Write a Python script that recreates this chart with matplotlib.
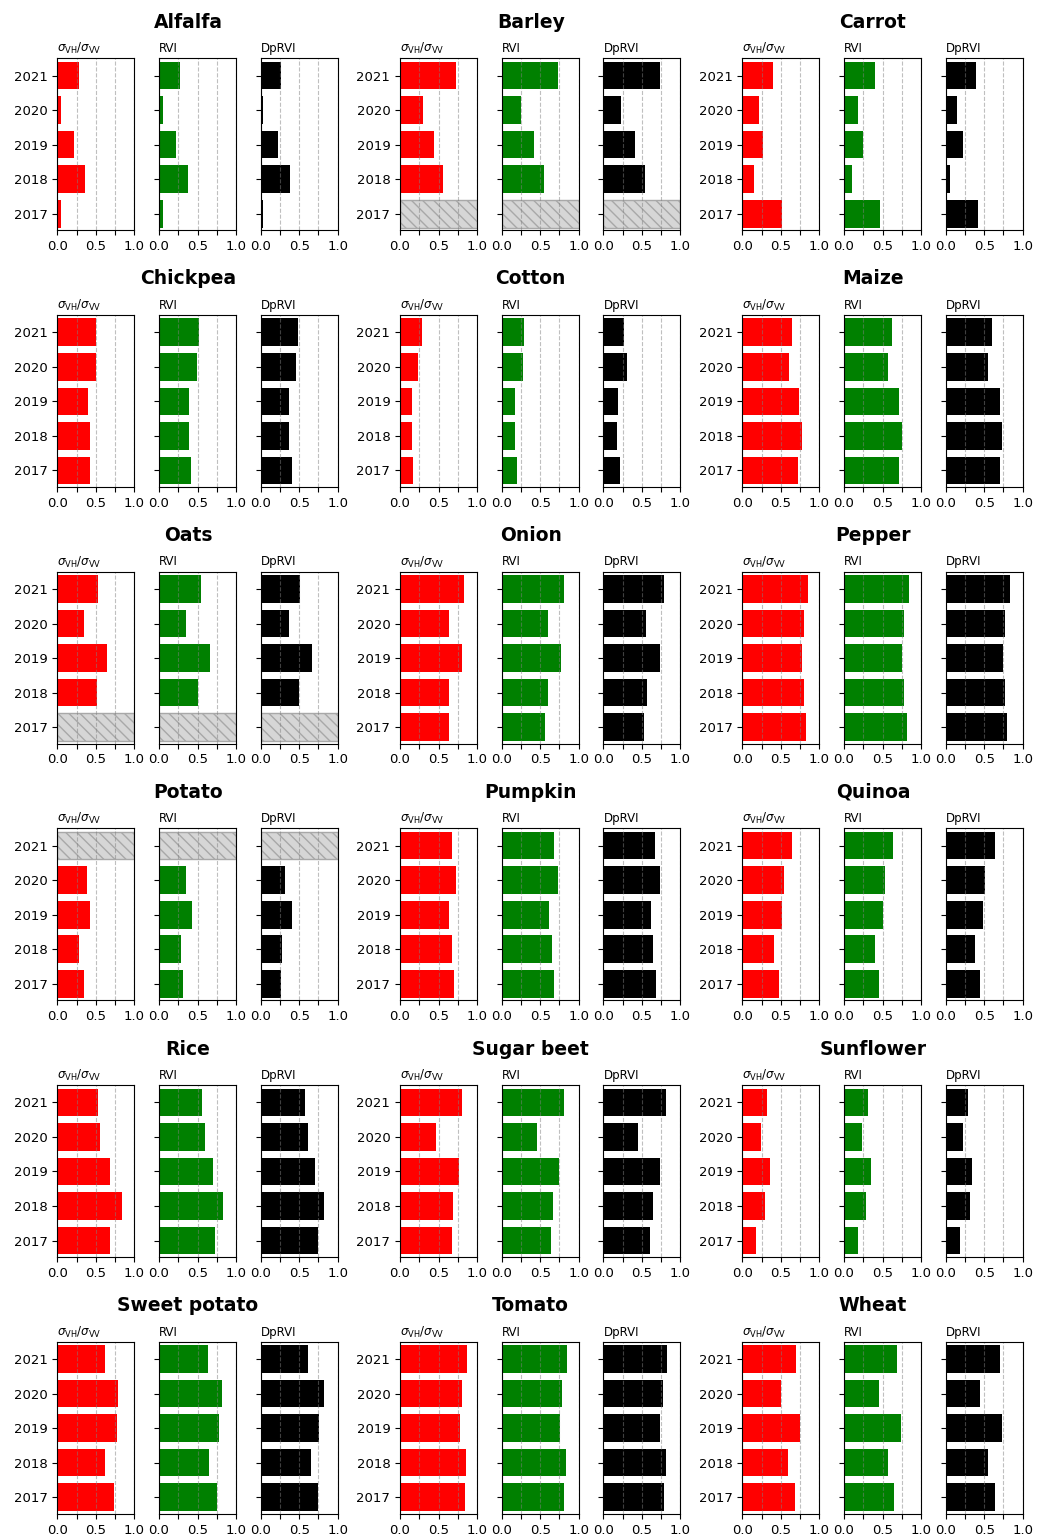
import numpy as np
import matplotlib
matplotlib.use("Agg")
import matplotlib.pyplot as plt

years = [2017, 2018, 2019, 2020, 2021]
crops = ["Alfalfa", "Barley", "Carrot", "Chickpea", "Cotton", "Maize",
         "Oats", "Onion", "Pepper", "Potato", "Pumpkin", "Quinoa",
         "Rice", "Sugar beet", "Sunflower", "Sweet potato", "Tomato", "Wheat"]
nan = np.nan

# per-crop values, ordered 2017 -> 2021 (nan = no data for that season)
sigma_ratio = {
    "Alfalfa":      [0.05, 0.36, 0.22, 0.05, 0.28],
    "Barley":       [nan, 0.56, 0.44, 0.30, 0.73],
    "Carrot":       [0.515, 0.15, 0.27, 0.22, 0.40],
    "Chickpea":     [0.425, 0.425, 0.40, 0.506, 0.506],
    "Cotton":       [0.17, 0.155, 0.155, 0.24, 0.29],
    "Maize":        [0.72, 0.775, 0.735, 0.605, 0.645],
    "Oats":         [nan, 0.515, 0.645, 0.35, 0.53],
    "Onion":        [0.63, 0.64, 0.81, 0.64, 0.835],
    "Pepper":       [0.825, 0.80, 0.775, 0.80, 0.85],
    "Potato":       [0.345, 0.28, 0.42, 0.38, nan],
    "Pumpkin":      [0.705, 0.68, 0.64, 0.73, 0.68],
    "Quinoa":       [0.475, 0.41, 0.515, 0.54, 0.645],
    "Rice":         [0.68, 0.84, 0.68, 0.55, 0.525],
    "Sugar beet":   [0.68, 0.69, 0.77, 0.47, 0.81],
    "Sunflower":    [0.18, 0.29, 0.36, 0.24, 0.32],
    "Sweet potato": [0.735, 0.615, 0.775, 0.785, 0.615],
    "Tomato":       [0.85, 0.86, 0.785, 0.81, 0.875],
    "Wheat":        [0.685, 0.595, 0.75, 0.50, 0.70],
}
rvi = {
    "Alfalfa":      [0.05, 0.38, 0.22, 0.05, 0.27],
    "Barley":       [nan, 0.55, 0.42, 0.25, 0.735],
    "Carrot":       [0.47, 0.10, 0.25, 0.18, 0.40],
    "Chickpea":     [0.41, 0.385, 0.385, 0.49, 0.52],
    "Cotton":       [0.20, 0.17, 0.17, 0.275, 0.29],
    "Maize":        [0.715, 0.755, 0.715, 0.57, 0.625],
    "Oats":         [nan, 0.50, 0.66, 0.35, 0.54],
    "Onion":        [0.565, 0.60, 0.77, 0.60, 0.81],
    "Pepper":       [0.82, 0.78, 0.755, 0.78, 0.845],
    "Potato":       [0.31, 0.28, 0.425, 0.35, nan],
    "Pumpkin":      [0.68, 0.655, 0.615, 0.735, 0.68],
    "Quinoa":       [0.455, 0.405, 0.51, 0.535, 0.64],
    "Rice":         [0.725, 0.83, 0.70, 0.595, 0.555],
    "Sugar beet":   [0.645, 0.67, 0.75, 0.46, 0.81],
    "Sunflower":    [0.18, 0.285, 0.35, 0.235, 0.31],
    "Sweet potato": [0.75, 0.645, 0.78, 0.815, 0.635],
    "Tomato":       [0.81, 0.84, 0.76, 0.785, 0.85],
    "Wheat":        [0.65, 0.575, 0.745, 0.455, 0.69],
}
dprvi = {
    "Alfalfa":      [0.035, 0.385, 0.23, 0.035, 0.27],
    "Barley":       [nan, 0.54, 0.41, 0.23, 0.73],
    "Carrot":       [0.425, 0.06, 0.22, 0.15, 0.40],
    "Chickpea":     [0.41, 0.37, 0.37, 0.46, 0.48],
    "Cotton":       [0.22, 0.18, 0.19, 0.31, 0.27],
    "Maize":        [0.71, 0.735, 0.70, 0.555, 0.605],
    "Oats":         [nan, 0.50, 0.67, 0.37, 0.51],
    "Onion":        [0.53, 0.57, 0.74, 0.555, 0.79],
    "Pepper":       [0.80, 0.775, 0.75, 0.775, 0.83],
    "Potato":       [0.265, 0.28, 0.41, 0.32, nan],
    "Pumpkin":      [0.685, 0.65, 0.62, 0.74, 0.675],
    "Quinoa":       [0.44, 0.385, 0.49, 0.515, 0.635],
    "Rice":         [0.75, 0.825, 0.71, 0.615, 0.58],
    "Sugar beet":   [0.61, 0.65, 0.74, 0.45, 0.815],
    "Sunflower":    [0.18, 0.31, 0.345, 0.23, 0.295],
    "Sweet potato": [0.75, 0.655, 0.76, 0.825, 0.615],
    "Tomato":       [0.79, 0.815, 0.74, 0.78, 0.83],
    "Wheat":        [0.635, 0.555, 0.725, 0.45, 0.70],
}

indices = [
    (r"$\sigma_{\mathrm{VH}}/\sigma_{\mathrm{VV}}$", sigma_ratio, "red"),
    ("RVI", rvi, "green"),
    ("DpRVI", dprvi, "black"),
]

W, H = 1045, 1535
fig = plt.figure(figsize=(W / 100, H / 100), dpi=100)

# layout in pixels
group_left = [57.3, 400.0, 742.3]
inner_step = 101.7
ax_w, ax_h = 77.0, 172.0
row_top0, row_step = 58.3, 256.7

ypos = np.arange(len(years))

for k, crop in enumerate(crops):
    r, c = divmod(k, 3)
    top = row_top0 + r * row_step
    for j, (label, table, color) in enumerate(indices):
        left = group_left[c] + j * inner_step
        ax = fig.add_axes([left / W, 1 - (top + ax_h) / H, ax_w / W, ax_h / H])
        vals = np.array(table[crop], dtype=float)
        ok = ~np.isnan(vals)
        ax.barh(ypos[ok], vals[ok], height=0.8, color=color)
        if (~ok).any():
            # seasons without data: hatched placeholder across the full range
            ax.barh(ypos[~ok], np.ones((~ok).sum()), height=0.8,
                    color="#d6d6d6", edgecolor="#a8a8a8", hatch="\\\\\\",
                    linewidth=1.0)
        ax.set_xlim(0, 1)
        ax.set_ylim(-0.48, 4.5)
        ax.set_xticks([0, 0.25, 0.5, 0.75, 1.0])
        ax.set_xticklabels(["0.0", "", "0.5", "", "1.0"])
        ax.set_yticks(ypos)
        if j == 0:
            ax.set_yticklabels([str(y) for y in years])
        else:
            ax.set_yticklabels([])
        ax.tick_params(labelsize=9.5)
        ax.grid(axis="x", linestyle="--", color="gray", alpha=0.5, linewidth=0.8)
        ax.set_title(label, loc="left", fontsize=8.5, pad=4.5)
    cx = group_left[c] + 130.7
    fig.text(cx / W, 1 - (top - 36) / H, crop, ha="center", va="center",
             fontsize=13.5, fontweight="bold")

fig.savefig("out.png", dpi=100)
